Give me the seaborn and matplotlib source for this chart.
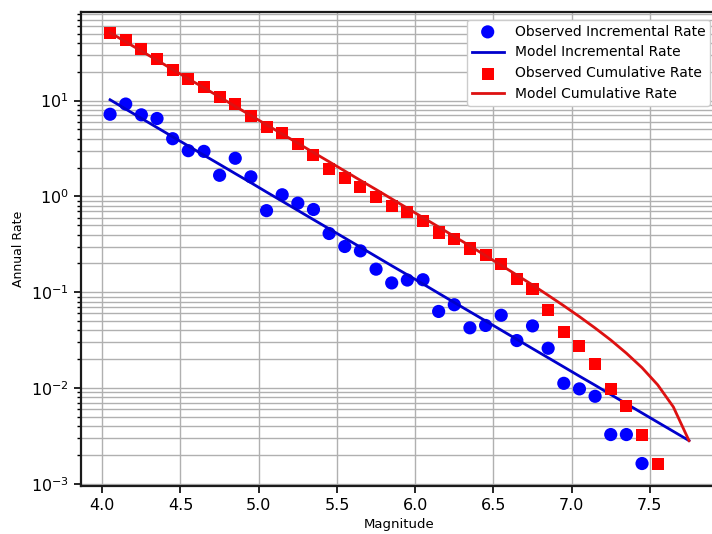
import numpy as np
import pandas as pd
import matplotlib
matplotlib.use("Agg")
import matplotlib.pyplot as plt
import seaborn as sns

# Observed rates per magnitude bin
obs_mag = [4.05, 4.15, 4.25, 4.35, 4.45, 4.55, 4.65, 4.75, 4.85, 4.95,
           5.05, 5.15, 5.25, 5.35, 5.45, 5.55, 5.65, 5.75, 5.85, 5.95,
           6.05, 6.15, 6.25, 6.35, 6.45, 6.55, 6.65, 6.75, 6.85, 6.95,
           7.05, 7.15, 7.25, 7.35, 7.45]
obs_incremental = [7.2, 9.2, 7.1, 6.5, 4.0, 3.0, 2.95, 1.66, 2.5, 1.6,
                   0.71, 1.04, 0.85, 0.73, 0.41, 0.30, 0.27, 0.174, 0.125, 0.134,
                   0.135, 0.063, 0.074, 0.0425, 0.045, 0.0575, 0.0313, 0.0445, 0.026, 0.0112,
                   0.0098, 0.0082, 0.00327, 0.00327, 0.00163]

cum_mag = [4.05, 4.15, 4.25, 4.35, 4.45, 4.55, 4.65, 4.75, 4.85, 4.95,
           5.05, 5.15, 5.25, 5.35, 5.45, 5.55, 5.65, 5.75, 5.85, 5.95,
           6.05, 6.15, 6.25, 6.35, 6.45, 6.55, 6.65, 6.75, 6.85, 6.95,
           7.05, 7.15, 7.25, 7.35, 7.45, 7.55]
obs_cumulative = [50.6, 42.9, 34.3, 27.2, 20.9, 16.9, 13.9, 10.9, 9.25, 6.88,
                  5.29, 4.54, 3.52, 2.68, 1.95, 1.54, 1.24, 0.99, 0.80, 0.68,
                  0.556, 0.42, 0.361, 0.286, 0.244, 0.198, 0.138, 0.109, 0.0648, 0.0386,
                  0.0275, 0.0179, 0.0098, 0.00655, 0.00327, 0.00163]

# Model curves
model_mag = [4.05, 4.15, 4.25, 4.35, 4.45, 4.55, 4.65, 4.75, 4.85, 4.95,
             5.05, 5.15, 5.25, 5.35, 5.45, 5.55, 5.65, 5.75, 5.85, 5.95,
             6.05, 6.15, 6.25, 6.35, 6.45, 6.55, 6.65, 6.75, 6.85, 6.95,
             7.05, 7.15, 7.25, 7.35, 7.45, 7.55, 7.65, 7.75]
model_incremental = [10.2, 8.15, 6.53, 5.23, 4.19, 3.36, 2.69, 2.16, 1.73, 1.39,
                     1.11, 0.891, 0.714, 0.572, 0.459, 0.368, 0.295, 0.236, 0.189, 0.152,
                     0.122, 0.0975, 0.0781, 0.0626, 0.0502, 0.0402, 0.0322, 0.0258, 0.0207, 0.0166,
                     0.0133, 0.0107, 0.00855, 0.00685, 0.00549, 0.0044, 0.00353, 0.00283]
model_cumulative = [51.2, 41.0, 32.9, 26.4, 21.1, 16.9, 13.6, 10.9, 8.71, 6.98,
                    5.59, 4.48, 3.59, 2.87, 2.30, 1.84, 1.47, 1.18, 0.942, 0.753,
                    0.601, 0.48, 0.382, 0.304, 0.241, 0.191, 0.151, 0.119, 0.0929, 0.0722,
                    0.0556, 0.0423, 0.0317, 0.0231, 0.0163, 0.0108, 0.00636, 0.00283]

inc_df = pd.DataFrame({"Magnitude": obs_mag, "Rate": obs_incremental})
cum_df = pd.DataFrame({"Magnitude": cum_mag, "Rate": obs_cumulative})
model_df = pd.DataFrame({"Magnitude": model_mag, "Incremental": model_incremental,
                         "Cumulative": model_cumulative})

fig = plt.figure(figsize=(7.12, 5.34), dpi=100)
ax = fig.add_axes([0.1133, 0.0899, 0.895, 0.8876])

sns.scatterplot(data=inc_df, x="Magnitude", y="Rate", ax=ax, color="blue", marker="o",
                s=90, edgecolor="none", label="Observed Incremental Rate", zorder=3)
sns.lineplot(data=model_df, x="Magnitude", y="Incremental", ax=ax, color="#0000cc",
             linewidth=2, label="Model Incremental Rate", zorder=3)
sns.scatterplot(data=cum_df, x="Magnitude", y="Rate", ax=ax, color="red", marker="s",
                s=75, edgecolor="none", label="Observed Cumulative Rate", zorder=3)
sns.lineplot(data=model_df, x="Magnitude", y="Cumulative", ax=ax, color="#dd1111",
             linewidth=2, label="Model Cumulative Rate", zorder=3)

ax.set_yscale("log")
ax.set_xlim(3.862, 7.935)
ax.set_ylim(9.5e-4, 84)
ax.set_xticks([4.0, 4.5, 5.0, 5.5, 6.0, 6.5, 7.0, 7.5])

ax.grid(True, which="major", axis="both", color="#b0b0b0", linewidth=1.0)
ax.grid(True, which="minor", axis="y", color="#b0b0b0", linewidth=1.0)
ax.set_axisbelow(True)

for s in ax.spines.values():
    s.set_linewidth(1.6)
    s.set_color("#1a1a1a")
ax.tick_params(axis="both", which="major", labelsize=11.5, length=5, width=1.2)
ax.tick_params(axis="y", which="minor", length=3, width=1)

ax.set_xlabel("Magnitude", fontsize=9.5)
ax.set_ylabel("Annual Rate", fontsize=9)

ax.legend(loc="upper right", fontsize=10, framealpha=1.0, handlelength=2.3,
          borderpad=0.35, borderaxespad=0.55)

fig.savefig("out.png", dpi=100)
